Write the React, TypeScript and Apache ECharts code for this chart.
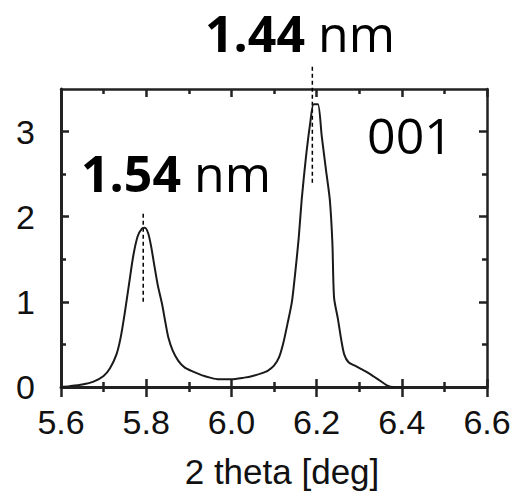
import React, { useEffect, useRef } from 'react';
import * as echarts from 'echarts';

// 2 theta [deg]
const twoTheta = [
  5.6, 5.62, 5.65, 5.675, 5.7, 5.715, 5.73, 5.74, 5.75, 5.76, 5.77, 5.78, 5.79, 5.797,
  5.805, 5.812, 5.818, 5.827, 5.837, 5.845, 5.852, 5.862, 5.875, 5.89, 5.91, 5.93, 5.95, 5.97,
  6.0, 6.03, 6.05, 6.07, 6.085, 6.1, 6.112, 6.122, 6.132, 6.142, 6.15, 6.158, 6.165, 6.175,
  6.185, 6.193, 6.203, 6.212, 6.222, 6.231, 6.237, 6.241, 6.25, 6.258, 6.265, 6.275, 6.29,
  6.305, 6.32, 6.335, 6.35, 6.365, 6.38, 6.4,
];
// intensity (a.u.)
const intensity = [
  0, 0.01, 0.03, 0.06, 0.13, 0.22, 0.38, 0.58, 0.88, 1.22, 1.55, 1.77, 1.86, 1.87,
  1.8, 1.64, 1.46, 1.2, 0.98, 0.76, 0.58, 0.43, 0.31, 0.23, 0.18, 0.14, 0.11, 0.09,
  0.09, 0.11, 0.13, 0.16, 0.19, 0.25, 0.35, 0.52, 0.75, 1.0, 1.35, 1.75, 2.2, 2.7,
  3.1, 3.32, 3.32, 2.95, 2.55, 2.2, 1.7, 1.05, 0.8, 0.55, 0.38, 0.29, 0.25,
  0.21, 0.17, 0.12, 0.07, 0.02, 0, 0,
];

const xTickLabels = ['5.6', '5.8', '6.0', '6.2', '6.4', '6.6'];
const yMajorTicks = [0, 1, 2, 3];
const yMinorTicks = [0.5, 1.5, 2.5];

// dashed peak markers
const peakX = [5.793, 6.19];
const peakDashBottom = [1.0, 2.4];
const peakDashTop = [2.05, 3.76];
const peakLabels = ['1.54', '1.44'];
const reflection = '001';

const AXIS = '#222';

export default function App() {
  const ref = useRef<HTMLDivElement>(null);
  useEffect(() => {
    if (!ref.current) return;
    const chart = echarts.init(ref.current, null, { renderer: 'svg' });
    const grid = { left: 61, right: 34, top: 89, bottom: 105, containLabel: false };
    const xBase = { type: 'value', min: 5.6, max: 6.6, interval: 0.2, splitLine: { show: false } };
    const yBase = { type: 'value', min: 0, max: 3.5, interval: 0.5, splitLine: { show: false } };
    const tickStyle = { color: AXIS, width: 2.5 };

    const dashSeries = peakX.map((x, i) => ({
      type: 'line',
      data: [[x, peakDashBottom[i]], [x, peakDashTop[i]]],
      showSymbol: false,
      clip: false,
      lineStyle: { color: '#000', width: 1.5, type: [4, 3] },
      silent: true,
      z: 3,
    }));

    const textFont = '"Open Sans", "Noto Sans", sans-serif';
    const labelPos = [
      { x: 176, y: 173 },
      { x: 300, y: 33 },
    ];

    chart.setOption({
      animation: false,
      grid,
      xAxis: [
        {
          ...xBase,
          position: 'bottom',
          axisLine: { show: true, onZero: false, lineStyle: { color: AXIS, width: 3 } },
          axisTick: { show: true, inside: true, length: 8, lineStyle: tickStyle },
          minorTick: { show: true, splitNumber: 2, length: 5, lineStyle: tickStyle },
          axisLabel: {
            show: true,
            fontSize: 34,
            color: '#111',
            fontFamily: '"Liberation Sans", Arial, sans-serif',
            margin: 18,
            formatter: (v: number) => {
              const idx = Math.round((v - 5.6) / 0.2);
              return xTickLabels[idx] ?? '';
            },
          },
        },
        {
          ...xBase,
          position: 'top',
          axisLine: { show: true, onZero: false, lineStyle: { color: AXIS, width: 2.5 } },
          axisTick: { show: true, inside: true, length: 8, lineStyle: tickStyle },
          minorTick: { show: true, splitNumber: 2, length: 5, lineStyle: tickStyle },
          axisLabel: { show: false },
        },
        {
          ...xBase,
          position: 'bottom',
          axisLine: { show: false, onZero: false },
          axisTick: { show: true, inside: false, length: 10, lineStyle: tickStyle },
          minorTick: { show: true, splitNumber: 2, length: 5, lineStyle: tickStyle },
          axisLabel: { show: false },
        },
      ],
      yAxis: [
        {
          ...yBase,
          position: 'left',
          axisLine: { show: true, onZero: false, lineStyle: { color: AXIS, width: 3 } },
          axisTick: { show: true, inside: true, length: 8, lineStyle: tickStyle, customValues: yMajorTicks },
          axisLabel: {
            show: true,
            fontSize: 34,
            color: '#111',
            fontFamily: '"Liberation Sans", Arial, sans-serif',
            margin: 26,
            customValues: yMajorTicks,
            formatter: (v: number) => String(v),
          },
        },
        {
          ...yBase,
          position: 'left',
          axisLine: { show: false, onZero: false },
          axisTick: { show: true, inside: true, length: 5, lineStyle: tickStyle, customValues: yMinorTicks },
          axisLabel: { show: false },
        },
        {
          ...yBase,
          position: 'right',
          axisLine: { show: true, onZero: false, lineStyle: { color: AXIS, width: 2.5 } },
          axisTick: { show: true, inside: true, length: 8, lineStyle: tickStyle, customValues: yMajorTicks },
          axisLabel: { show: false },
        },
        {
          ...yBase,
          position: 'right',
          axisLine: { show: false, onZero: false },
          axisTick: { show: true, inside: true, length: 5, lineStyle: tickStyle, customValues: yMinorTicks },
          axisLabel: { show: false },
        },
      ],
      series: [
        {
          type: 'line',
          data: twoTheta.map((x, i) => [x, intensity[i]]),
          showSymbol: false,
          smooth: 0.25,
          lineStyle: { color: '#1a1a1a', width: 2 },
          z: 4,
        },
        ...dashSeries,
      ],
      graphic: [
        ...peakLabels.map((lab, i) => ({
          type: 'text',
          x: labelPos[i].x,
          y: labelPos[i].y,
          style: {
            text: `{b|${lab}} nm`,
            rich: { b: { fontWeight: 'bold', fontSize: 50, fontFamily: textFont, fill: '#000' } },
            fontSize: 50,
            fontFamily: textFont,
            fill: '#000',
            align: 'center',
            verticalAlign: 'middle',
          },
        })),
        {
          type: 'text',
          x: 410,
          y: 135,
          style: {
            text: reflection,
            fontSize: 50,
            fontFamily: textFont,
            fill: '#000',
            align: 'center',
            verticalAlign: 'middle',
          },
        },
        {
          type: 'text',
          x: 282,
          y: 471,
          style: {
            text: '2 theta [deg]',
            fontSize: 35,
            fontFamily: '"Liberation Sans", Arial, sans-serif',
            fill: '#111',
            align: 'center',
            verticalAlign: 'middle',
          },
        },
      ],
    });
    return () => chart.dispose();
  }, []);
  return (
    <div
      ref={ref}
      style={{ position: 'fixed', left: 0, top: 0, width: 521, height: 492, background: '#fff' }}
    />
  );
}
